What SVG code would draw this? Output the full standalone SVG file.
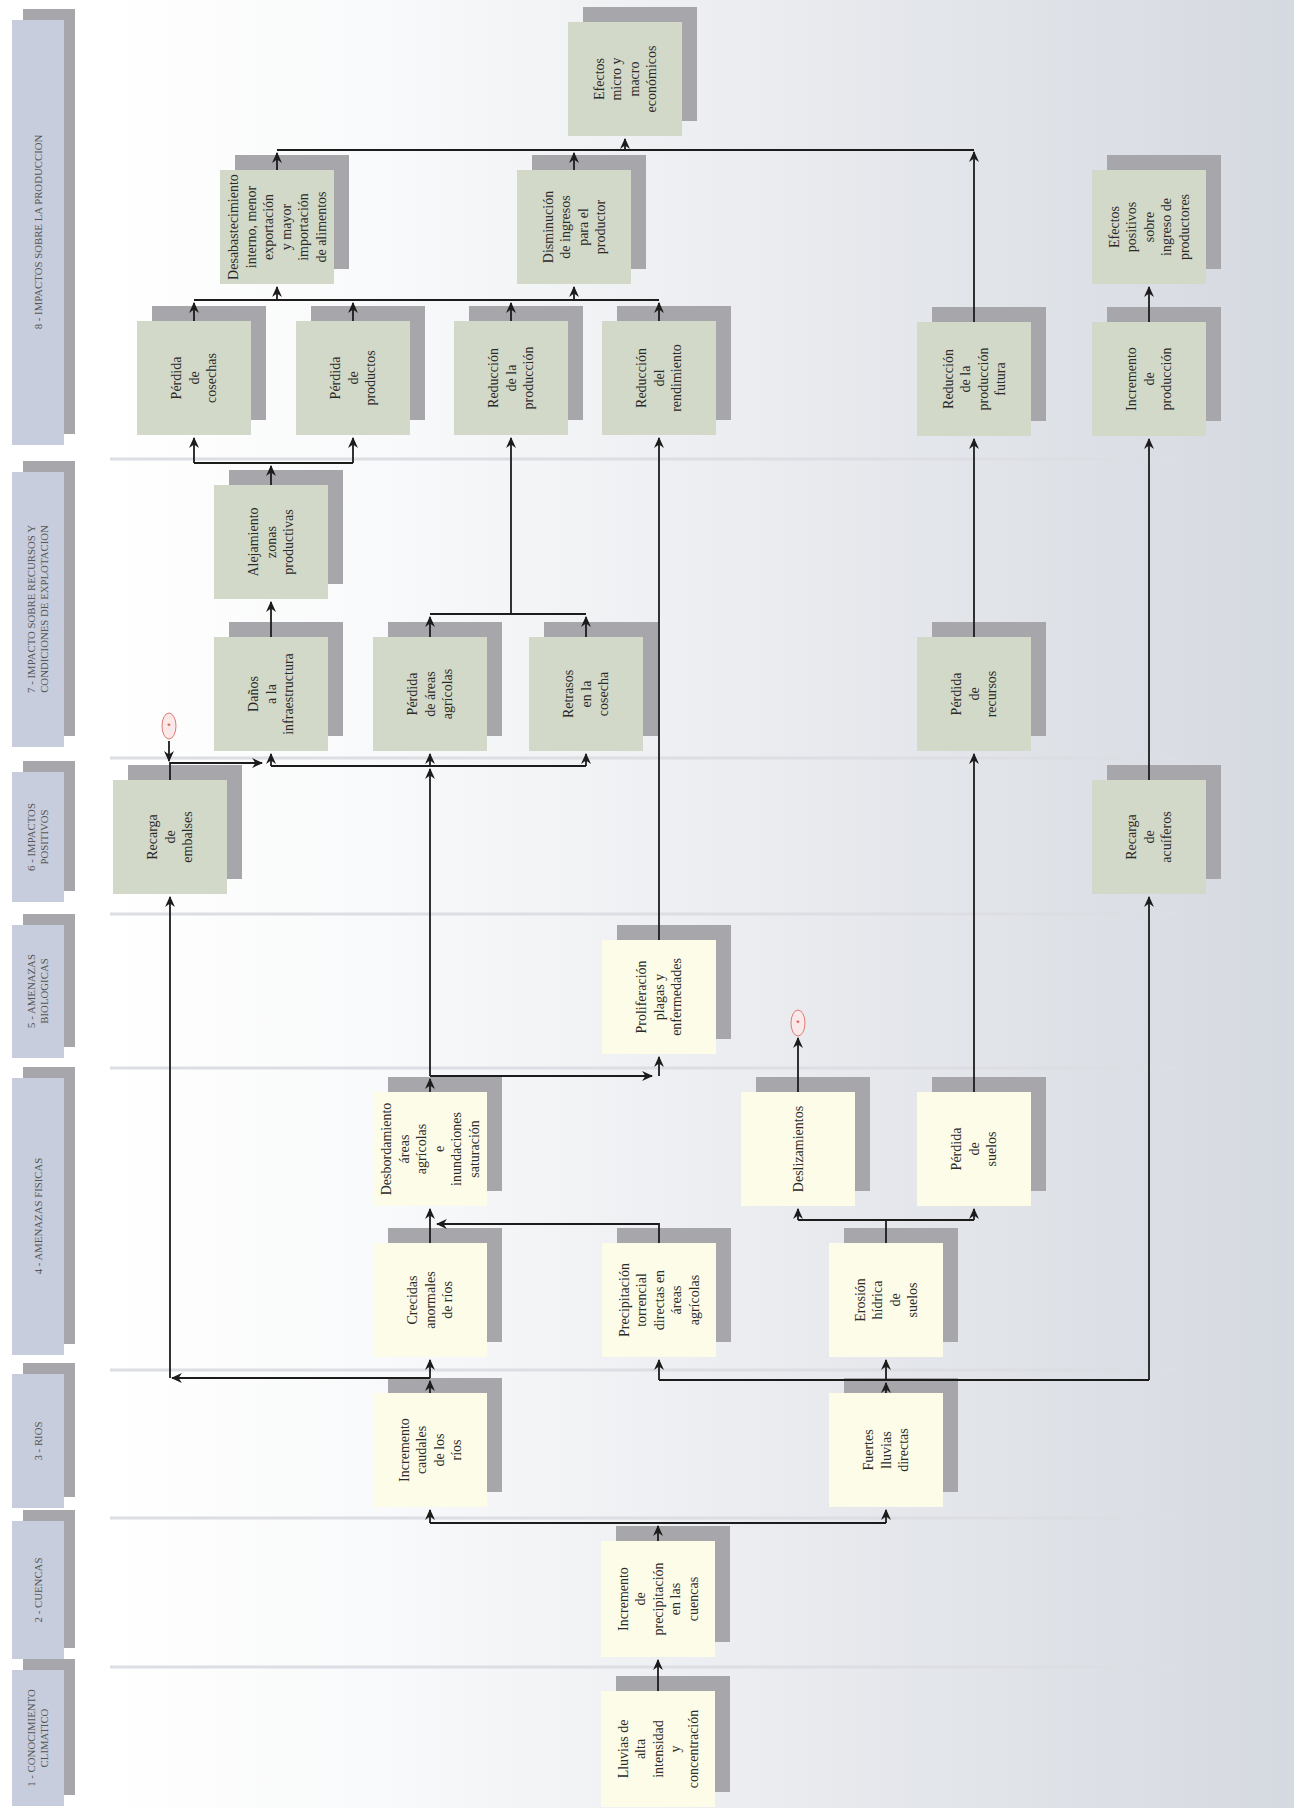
<svg xmlns="http://www.w3.org/2000/svg" width="1294" height="1808" viewBox="0 0 1294 1808">
<defs>
<linearGradient id="bg" gradientUnits="userSpaceOnUse" x1="100" y1="0" x2="1294" y2="0">
<stop offset="0" stop-color="#ffffff"/>
<stop offset="0.25" stop-color="#f8f9fa"/>
<stop offset="0.6" stop-color="#e8eaee"/>
<stop offset="1" stop-color="#d5d9e0"/>
</linearGradient>
<marker id="a" viewBox="0 0 10 10" refX="9" refY="5" markerWidth="11" markerHeight="11" markerUnits="userSpaceOnUse" orient="auto">
<path d="M0,0.5 L10,5 L0,9.5 L3,5 z" fill="#1c1c1c"/>
</marker>
<style>
.sh{fill:#a7a6ab}
.g .bx{fill:#d3d9c8}
.y .bx{fill:#fcfce8}
.lb .bx{fill:#c7cddc}
.t{font-family:"Liberation Serif","Times New Roman",serif;font-size:14px;fill:#2a2a2a;text-anchor:middle}
.lt{font-family:"Liberation Serif","Times New Roman",serif;font-size:10.8px;fill:#555;text-anchor:middle}
.sep{stroke:#dcdee3;stroke-width:3}
.c path{fill:none;stroke:#1c1c1c;stroke-width:1.8}
.c path.m{marker-end:url(#a)}
.star ellipse{fill:#fbe8e8;stroke:#e07a7a;stroke-width:1}
.star text{font-family:"Liberation Sans",Arial,sans-serif;font-size:9px;fill:#d04040;text-anchor:middle}
</style>
</defs>
<rect x="0" y="0" width="1294" height="1808" fill="url(#bg)"/>
<g id="separators">
<line class="sep" x1="110" y1="459" x2="1180" y2="459"/>
<line class="sep" x1="110" y1="758" x2="1180" y2="758"/>
<line class="sep" x1="110" y1="914" x2="1180" y2="914"/>
<line class="sep" x1="110" y1="1068" x2="1180" y2="1068"/>
<line class="sep" x1="110" y1="1370" x2="1180" y2="1370"/>
<line class="sep" x1="110" y1="1518" x2="1180" y2="1518"/>
<line class="sep" x1="110" y1="1667" x2="1180" y2="1667"/>
</g>
<g id="lanes">
<g id="lane-8" class="lb"><rect class="sh" x="23" y="9" width="52" height="425"/><rect class="bx" x="12" y="20" width="52" height="425"/><text class="lt" transform="translate(38,232) rotate(-90)"><tspan x="0" y="3.8">8 - IMPACTOS SOBRE LA PRODUCCION</tspan></text></g>
<g id="lane-7" class="lb"><rect class="sh" x="23" y="461" width="52" height="275"/><rect class="bx" x="12" y="472" width="52" height="275"/><text class="lt" transform="translate(38,609) rotate(-90)"><tspan x="0" y="-2.7">7 - IMPACTO SOBRE RECURSOS Y</tspan><tspan x="0" dy="13">CONDICIONES DE EXPLOTACION</tspan></text></g>
<g id="lane-6" class="lb"><rect class="sh" x="23" y="761" width="52" height="130"/><rect class="bx" x="12" y="772" width="52" height="130"/><text class="lt" transform="translate(38,837) rotate(-90)"><tspan x="0" y="-2.7">6 - IMPACTOS</tspan><tspan x="0" dy="13">POSITIVOS</tspan></text></g>
<g id="lane-5" class="lb"><rect class="sh" x="23" y="914" width="52" height="133"/><rect class="bx" x="12" y="925" width="52" height="133"/><text class="lt" transform="translate(38,991) rotate(-90)"><tspan x="0" y="-2.7">5 - AMENAZAS</tspan><tspan x="0" dy="13">BIOLOGICAS</tspan></text></g>
<g id="lane-4" class="lb"><rect class="sh" x="23" y="1067" width="52" height="277"/><rect class="bx" x="12" y="1078" width="52" height="277"/><text class="lt" transform="translate(38,1216) rotate(-90)"><tspan x="0" y="3.8">4 - AMENAZAS FISICAS</tspan></text></g>
<g id="lane-3" class="lb"><rect class="sh" x="23" y="1363" width="52" height="134"/><rect class="bx" x="12" y="1374" width="52" height="134"/><text class="lt" transform="translate(38,1441) rotate(-90)"><tspan x="0" y="3.8">3 - RIOS</tspan></text></g>
<g id="lane-2" class="lb"><rect class="sh" x="23" y="1510" width="52" height="138"/><rect class="bx" x="12" y="1521" width="52" height="138"/><text class="lt" transform="translate(38,1590) rotate(-90)"><tspan x="0" y="3.8">2 - CUENCAS</tspan></text></g>
<g id="lane-1" class="lb"><rect class="sh" x="23" y="1659" width="52" height="136"/><rect class="bx" x="12" y="1670" width="52" height="136"/><text class="lt" transform="translate(38,1738) rotate(-90)"><tspan x="0" y="-2.7">1 - CONOCIMIENTO</tspan><tspan x="0" dy="13">CLIMATICO</tspan></text></g>
</g>
<g id="nodes">
<g id="n-efectos-macro" class="g"><rect class="sh" x="583" y="7" width="114" height="114"/><rect class="bx" x="568" y="22" width="114" height="114"/><text class="t" transform="translate(625,79) rotate(-90)"><tspan x="0" y="-21.45">Efectos</tspan><tspan x="0" dy="17.5">micro y</tspan><tspan x="0" dy="17.5">macro</tspan><tspan x="0" dy="17.5">económicos</tspan></text></g>
<g id="n-desabastecimiento" class="g"><rect class="sh" x="235" y="155" width="114" height="114"/><rect class="bx" x="220" y="170" width="114" height="114"/><text class="t" transform="translate(277,227) rotate(-90)"><tspan x="0" y="-38.95">Desabastecimiento</tspan><tspan x="0" dy="17.5">interno, menor</tspan><tspan x="0" dy="17.5">exportación</tspan><tspan x="0" dy="17.5">y mayor</tspan><tspan x="0" dy="17.5">importación</tspan><tspan x="0" dy="17.5">de alimentos</tspan></text></g>
<g id="n-disminucion" class="g"><rect class="sh" x="532" y="155" width="114" height="114"/><rect class="bx" x="517" y="170" width="114" height="114"/><text class="t" transform="translate(574,227) rotate(-90)"><tspan x="0" y="-21.45">Disminución</tspan><tspan x="0" dy="17.5">de ingresos</tspan><tspan x="0" dy="17.5">para el</tspan><tspan x="0" dy="17.5">productor</tspan></text></g>
<g id="n-efectos-positivos" class="g"><rect class="sh" x="1107" y="155" width="114" height="114"/><rect class="bx" x="1092" y="170" width="114" height="114"/><text class="t" transform="translate(1149,227) rotate(-90)"><tspan x="0" y="-30.2">Efectos</tspan><tspan x="0" dy="17.5">positivos</tspan><tspan x="0" dy="17.5">sobre</tspan><tspan x="0" dy="17.5">ingreso de</tspan><tspan x="0" dy="17.5">productores</tspan></text></g>
<g id="n-perdida-cosechas" class="g"><rect class="sh" x="152" y="306" width="114" height="114"/><rect class="bx" x="137" y="321" width="114" height="114"/><text class="t" transform="translate(194,378) rotate(-90)"><tspan x="0" y="-12.7">Pérdida</tspan><tspan x="0" dy="17.5">de</tspan><tspan x="0" dy="17.5">cosechas</tspan></text></g>
<g id="n-perdida-productos" class="g"><rect class="sh" x="311" y="306" width="114" height="114"/><rect class="bx" x="296" y="321" width="114" height="114"/><text class="t" transform="translate(353,378) rotate(-90)"><tspan x="0" y="-12.7">Pérdida</tspan><tspan x="0" dy="17.5">de</tspan><tspan x="0" dy="17.5">productos</tspan></text></g>
<g id="n-reduccion-produccion" class="g"><rect class="sh" x="469" y="306" width="114" height="114"/><rect class="bx" x="454" y="321" width="114" height="114"/><text class="t" transform="translate(511,378) rotate(-90)"><tspan x="0" y="-12.7">Reducción</tspan><tspan x="0" dy="17.5">de la</tspan><tspan x="0" dy="17.5">producción</tspan></text></g>
<g id="n-reduccion-rendimiento" class="g"><rect class="sh" x="617" y="306" width="114" height="114"/><rect class="bx" x="602" y="321" width="114" height="114"/><text class="t" transform="translate(659,378) rotate(-90)"><tspan x="0" y="-12.7">Reducción</tspan><tspan x="0" dy="17.5">del</tspan><tspan x="0" dy="17.5">rendimiento</tspan></text></g>
<g id="n-reduccion-futura" class="g"><rect class="sh" x="932" y="307" width="114" height="114"/><rect class="bx" x="917" y="322" width="114" height="114"/><text class="t" transform="translate(974,379) rotate(-90)"><tspan x="0" y="-21.45">Reducción</tspan><tspan x="0" dy="17.5">de la</tspan><tspan x="0" dy="17.5">producción</tspan><tspan x="0" dy="17.5">futura</tspan></text></g>
<g id="n-incremento-produccion" class="g"><rect class="sh" x="1107" y="307" width="114" height="114"/><rect class="bx" x="1092" y="322" width="114" height="114"/><text class="t" transform="translate(1149,379) rotate(-90)"><tspan x="0" y="-12.7">Incremento</tspan><tspan x="0" dy="17.5">de</tspan><tspan x="0" dy="17.5">producción</tspan></text></g>
<g id="n-alejamiento" class="g"><rect class="sh" x="229" y="470" width="114" height="114"/><rect class="bx" x="214" y="485" width="114" height="114"/><text class="t" transform="translate(271,542) rotate(-90)"><tspan x="0" y="-12.7">Alejamiento</tspan><tspan x="0" dy="17.5">zonas</tspan><tspan x="0" dy="17.5">productivas</tspan></text></g>
<g id="n-danos" class="g"><rect class="sh" x="229" y="622" width="114" height="114"/><rect class="bx" x="214" y="637" width="114" height="114"/><text class="t" transform="translate(271,694) rotate(-90)"><tspan x="0" y="-12.7">Daños</tspan><tspan x="0" dy="17.5">a la</tspan><tspan x="0" dy="17.5">infraestructura</tspan></text></g>
<g id="n-perdida-areas" class="g"><rect class="sh" x="388" y="622" width="114" height="114"/><rect class="bx" x="373" y="637" width="114" height="114"/><text class="t" transform="translate(430,694) rotate(-90)"><tspan x="0" y="-12.7">Pérdida</tspan><tspan x="0" dy="17.5">de áreas</tspan><tspan x="0" dy="17.5">agrícolas</tspan></text></g>
<g id="n-retrasos" class="g"><rect class="sh" x="544" y="622" width="114" height="114"/><rect class="bx" x="529" y="637" width="114" height="114"/><text class="t" transform="translate(586,694) rotate(-90)"><tspan x="0" y="-12.7">Retrasos</tspan><tspan x="0" dy="17.5">en la</tspan><tspan x="0" dy="17.5">cosecha</tspan></text></g>
<g id="n-perdida-recursos" class="g"><rect class="sh" x="932" y="622" width="114" height="114"/><rect class="bx" x="917" y="637" width="114" height="114"/><text class="t" transform="translate(974,694) rotate(-90)"><tspan x="0" y="-12.7">Pérdida</tspan><tspan x="0" dy="17.5">de</tspan><tspan x="0" dy="17.5">recursos</tspan></text></g>
<g id="n-recarga-embalses" class="g"><rect class="sh" x="128" y="765" width="114" height="114"/><rect class="bx" x="113" y="780" width="114" height="114"/><text class="t" transform="translate(170,837) rotate(-90)"><tspan x="0" y="-12.7">Recarga</tspan><tspan x="0" dy="17.5">de</tspan><tspan x="0" dy="17.5">embalses</tspan></text></g>
<g id="n-recarga-acuiferos" class="g"><rect class="sh" x="1107" y="765" width="114" height="114"/><rect class="bx" x="1092" y="780" width="114" height="114"/><text class="t" transform="translate(1149,837) rotate(-90)"><tspan x="0" y="-12.7">Recarga</tspan><tspan x="0" dy="17.5">de</tspan><tspan x="0" dy="17.5">acuíferos</tspan></text></g>
<g id="n-proliferacion" class="y"><rect class="sh" x="617" y="925" width="114" height="114"/><rect class="bx" x="602" y="940" width="114" height="114"/><text class="t" transform="translate(659,997) rotate(-90)"><tspan x="0" y="-12.7">Proliferación</tspan><tspan x="0" dy="17.5">plagas y</tspan><tspan x="0" dy="17.5">enfermedades</tspan></text></g>
<g id="n-desbordamiento" class="y"><rect class="sh" x="388" y="1077" width="114" height="114"/><rect class="bx" x="373" y="1092" width="114" height="114"/><text class="t" transform="translate(430,1149) rotate(-90)"><tspan x="0" y="-38.95">Desbordamiento</tspan><tspan x="0" dy="17.5">áreas</tspan><tspan x="0" dy="17.5">agrícolas</tspan><tspan x="0" dy="17.5">e</tspan><tspan x="0" dy="17.5">inundaciones</tspan><tspan x="0" dy="17.5">saturación</tspan></text></g>
<g id="n-deslizamientos" class="y"><rect class="sh" x="756" y="1077" width="114" height="114"/><rect class="bx" x="741" y="1092" width="114" height="114"/><text class="t" transform="translate(798,1149) rotate(-90)"><tspan x="0" y="4.8">Deslizamientos</tspan></text></g>
<g id="n-perdida-suelos" class="y"><rect class="sh" x="932" y="1077" width="114" height="114"/><rect class="bx" x="917" y="1092" width="114" height="114"/><text class="t" transform="translate(974,1149) rotate(-90)"><tspan x="0" y="-12.7">Pérdida</tspan><tspan x="0" dy="17.5">de</tspan><tspan x="0" dy="17.5">suelos</tspan></text></g>
<g id="n-crecidas" class="y"><rect class="sh" x="388" y="1228" width="114" height="114"/><rect class="bx" x="373" y="1243" width="114" height="114"/><text class="t" transform="translate(430,1300) rotate(-90)"><tspan x="0" y="-12.7">Crecidas</tspan><tspan x="0" dy="17.5">anormales</tspan><tspan x="0" dy="17.5">de ríos</tspan></text></g>
<g id="n-precipitacion-torrencial" class="y"><rect class="sh" x="617" y="1228" width="114" height="114"/><rect class="bx" x="602" y="1243" width="114" height="114"/><text class="t" transform="translate(659,1300) rotate(-90)"><tspan x="0" y="-30.2">Precipitación</tspan><tspan x="0" dy="17.5">torrencial</tspan><tspan x="0" dy="17.5">directas en</tspan><tspan x="0" dy="17.5">áreas</tspan><tspan x="0" dy="17.5">agrícolas</tspan></text></g>
<g id="n-erosion" class="y"><rect class="sh" x="844" y="1228" width="114" height="114"/><rect class="bx" x="829" y="1243" width="114" height="114"/><text class="t" transform="translate(886,1300) rotate(-90)"><tspan x="0" y="-21.45">Erosión</tspan><tspan x="0" dy="17.5">hídrica</tspan><tspan x="0" dy="17.5">de</tspan><tspan x="0" dy="17.5">suelos</tspan></text></g>
<g id="n-incremento-caudales" class="y"><rect class="sh" x="388" y="1378" width="114" height="114"/><rect class="bx" x="373" y="1393" width="114" height="114"/><text class="t" transform="translate(430,1450) rotate(-90)"><tspan x="0" y="-21.45">Incremento</tspan><tspan x="0" dy="17.5">caudales</tspan><tspan x="0" dy="17.5">de los</tspan><tspan x="0" dy="17.5">ríos</tspan></text></g>
<g id="n-fuertes-lluvias" class="y"><rect class="sh" x="844" y="1378" width="114" height="114"/><rect class="bx" x="829" y="1393" width="114" height="114"/><text class="t" transform="translate(886,1450) rotate(-90)"><tspan x="0" y="-12.7">Fuertes</tspan><tspan x="0" dy="17.5">lluvias</tspan><tspan x="0" dy="17.5">directas</tspan></text></g>
<g id="n-incremento-precipitacion" class="y"><rect class="sh" x="616" y="1526" width="114" height="116"/><rect class="bx" x="601" y="1541" width="114" height="116"/><text class="t" transform="translate(658,1599) rotate(-90)"><tspan x="0" y="-30.2">Incremento</tspan><tspan x="0" dy="17.5">de</tspan><tspan x="0" dy="17.5">precipitación</tspan><tspan x="0" dy="17.5">en las</tspan><tspan x="0" dy="17.5">cuencas</tspan></text></g>
<g id="n-lluvias" class="y"><rect class="sh" x="616" y="1676" width="114" height="116"/><rect class="bx" x="601" y="1691" width="114" height="116"/><text class="t" transform="translate(658,1749) rotate(-90)"><tspan x="0" y="-30.2">Lluvias de</tspan><tspan x="0" dy="17.5">alta</tspan><tspan x="0" dy="17.5">intensidad</tspan><tspan x="0" dy="17.5">y</tspan><tspan x="0" dy="17.5">concentración</tspan></text></g>
<g id="n-star-1" class="star"><ellipse cx="169" cy="726" rx="7" ry="13"/><text x="169" y="729">*</text></g>
<g id="n-star-2" class="star"><ellipse cx="798" cy="1023" rx="7" ry="13"/><text x="798" y="1026">*</text></g>
</g>
<g id="connectors" class="c">
<path class="m" d="M277,170 V153"/>
<path class="m" d="M574,170 V153"/>
<path d="M277,150 H974"/>
<path class="m" d="M625,150 V139"/>
<path class="m" d="M974,322 V152"/>
<path class="m" d="M194,321 V303"/>
<path class="m" d="M353,321 V303"/>
<path class="m" d="M511,321 V303"/>
<path class="m" d="M659,321 V303"/>
<path d="M194,300 H659"/>
<path class="m" d="M277,300 V287"/>
<path class="m" d="M574,300 V287"/>
<path class="m" d="M1149,322 V287"/>
<path class="m" d="M271,485 V466"/>
<path d="M194,463 H353"/>
<path class="m" d="M194,463 V438"/>
<path class="m" d="M353,463 V438"/>
<path class="m" d="M430,637 V617"/>
<path class="m" d="M586,637 V617"/>
<path d="M430,614 H586"/>
<path class="m" d="M511,614 V438"/>
<path class="m" d="M271,637 V602"/>
<path class="m" d="M974,637 V439"/>
<path class="m" d="M1149,780 V439"/>
<path d="M271,766 H586"/>
<path class="m" d="M271,766 V754"/>
<path class="m" d="M430,766 V754"/>
<path class="m" d="M586,766 V754"/>
<path class="m" d="M170,780 V763 H262"/>
<path class="m" d="M169,741 V761"/>
<path class="m" d="M430,1092 V1079"/>
<path class="m" d="M430,1076 V769"/>
<path class="m" d="M430,1076 H652"/>
<path class="m" d="M659,1076 V1057"/>
<path class="m" d="M659,940 V438"/>
<path class="m" d="M430,1243 V1209"/>
<path class="m" d="M659,1243 V1224 H437"/>
<path d="M886,1243 V1220"/>
<path d="M798,1220 H974"/>
<path class="m" d="M798,1220 V1209"/>
<path class="m" d="M974,1220 V1209"/>
<path class="m" d="M798,1092 V1038"/>
<path class="m" d="M974,1092 V754"/>
<path class="m" d="M430,1393 V1381"/>
<path class="m" d="M430,1378 V1360"/>
<path class="m" d="M430,1378 H172"/>
<path class="m" d="M170,1378 V897"/>
<path class="m" d="M886,1393 V1383"/>
<path class="m" d="M886,1380 V1360"/>
<path d="M659,1380 H1149"/>
<path class="m" d="M659,1380 V1360"/>
<path class="m" d="M1149,1380 V897"/>
<path class="m" d="M658,1541 V1526"/>
<path d="M430,1523 H886"/>
<path class="m" d="M430,1523 V1510"/>
<path class="m" d="M886,1523 V1510"/>
<path class="m" d="M658,1691 V1660"/>
</g>
</svg>
